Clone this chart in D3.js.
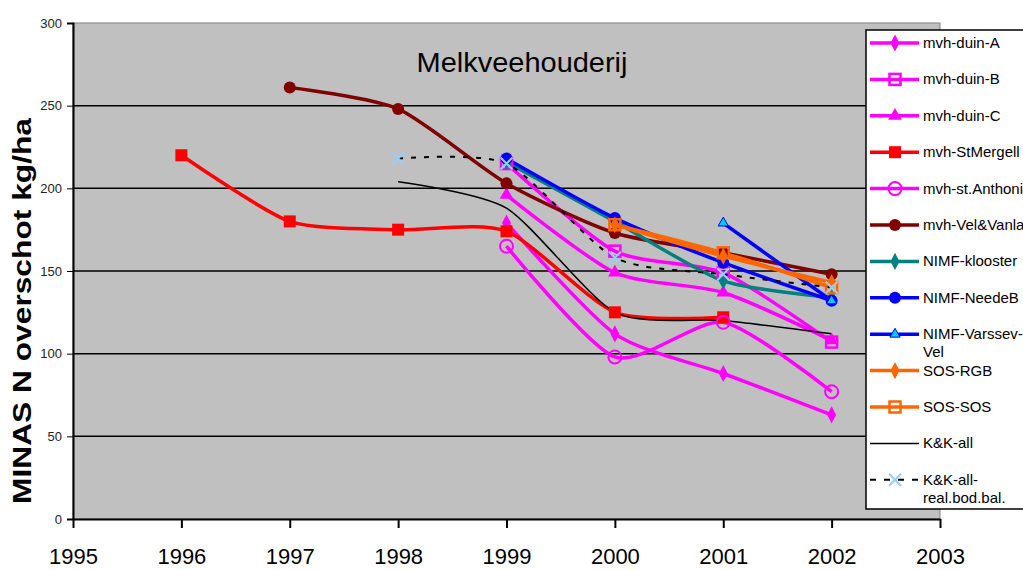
<!DOCTYPE html>
<html>
<head>
<meta charset="utf-8">
<title>Melkveehouderij</title>
<script src="https://d3js.org/d3.v7.min.js"></script>
<style>
  body { margin: 0; background: #fff; }
  text { font-family: Arial, "Liberation Sans", sans-serif; }
</style>
</head>
<body>
<div id="chart"></div>
<script>
// jaren op de x-as en de meetjaren
const xTicks = [1995, 1996, 1997, 1998, 1999, 2000, 2001, 2002, 2003];
const yTicks = [0, 50, 100, 150, 200, 250, 300];
const yrs = [1996, 1997, 1998, 1999, 2000, 2001, 2002];

// N-overschot per bedrijf (kg/ha), null = geen meting
const duinA      = [null, null, null, 179, 112, 88, 63];
const duinB      = [null, null, null, 215, 162, 149, 107];
const duinC      = [null, null, null, 196, 149, 137, 108];
const stMergell  = [220, 180, 175, 174, 125, 122, null];
const stAnthoni  = [null, null, null, 165, 98, 119, 77];
const velVanla   = [null, 261, 248, 203, 173, 161, 148];
const klooster   = [null, null, null, 216, 180, 144, 134];
const needeB     = [null, null, null, 218, 182, 155, 132];
const varssev    = [null, null, null, null, null, 179, 132];
const sosRgb     = [null, null, null, null, 178, 159, 143];
const sosSos     = [null, null, null, null, 178, 161, 140];
const kkAll      = [null, null, 204, 188, 125, 120, 112];
const kkReal     = [null, null, 218, 215, 158, 148, 140];

const series = [
  {name: ["mvh-duin-A"], values: duinA, color: "#ff00ff", marker: "diamond"},
  {name: ["mvh-duin-B"], values: duinB, color: "#ff00ff", marker: "opensquare"},
  {name: ["mvh-duin-C"], values: duinC, color: "#ff00ff", marker: "triangle"},
  {name: ["mvh-StMergell"], values: stMergell, color: "#ff0000", marker: "square"},
  {name: ["mvh-st.Anthoni"], values: stAnthoni, color: "#ff00ff", marker: "opencircle"},
  {name: ["mvh-Vel&Vanla"], values: velVanla, color: "#800000", marker: "circle"},
  {name: ["NIMF-klooster"], values: klooster, color: "#008080", marker: "diamond"},
  {name: ["NIMF-NeedeB"], values: needeB, color: "#0000ff", marker: "circle"},
  {name: ["NIMF-Varssev-", "Vel"], values: varssev, color: "#0000ff", marker: "cyantri"},
  {name: ["SOS-RGB"], values: sosRgb, color: "#ff6600", marker: "diamond"},
  {name: ["SOS-SOS"], values: sosSos, color: "#ff6600", marker: "opensquare"},
  {name: ["K&K-all"], values: kkAll, color: "#000000", marker: "none", thin: true},
  {name: ["K&K-all-", "real.bod.bal."], values: kkReal, color: "#000000", marker: "cross", dashed: true}
];

const W = 1023, H = 570;
const margin = {top: 23, right: 83, bottom: 51, left: 73};
const w = W - margin.left - margin.right;
const h = H - margin.top - margin.bottom;

const svg = d3.select("#chart").append("svg")
    .attr("width", W).attr("height", H);

const g = svg.append("g")
    .attr("transform", "translate(" + margin.left + "," + margin.top + ")");

const xScale = d3.scaleLinear().domain([1995, 2003]).range([0, w]);
const yScale = d3.scaleLinear().domain([0, 300]).range([h, 0]);

// plotgebied
g.append("rect")
    .attr("width", w).attr("height", h)
    .attr("fill", "#c0c0c0")
    .attr("stroke", "#808080");

// rasterlijnen
g.selectAll(".grid")
    .data(yTicks.filter(d => d > 0 && d < 300))
    .enter().append("line")
    .attr("x1", 0).attr("x2", w)
    .attr("y1", d => yScale(d)).attr("y2", d => yScale(d))
    .attr("stroke", "#000").attr("stroke-width", 1.5);

// titel
svg.append("text")
    .attr("x", 522).attr("y", 72)
    .attr("text-anchor", "middle")
    .attr("font-size", "27px")
    .attr("textLength", 211)
    .attr("lengthAdjust", "spacingAndGlyphs")
    .text("Melkveehouderij");

// assen
const yAxis = d3.axisLeft(yScale).tickValues(yTicks).tickSize(6).tickPadding(5);
const ya = g.append("g").call(yAxis);
ya.select(".domain").attr("stroke-width", 2);
ya.selectAll("text").attr("font-size", "13px").attr("fill", "#222");

const xAxis = d3.axisBottom(xScale).tickValues(xTicks).tickFormat(d3.format("d"))
    .tickSize(9).tickSizeOuter(0).tickPadding(20);
const xa = g.append("g").attr("transform", "translate(0," + h + ")").call(xAxis);
xa.select(".domain").attr("stroke-width", 2);
xa.selectAll(".tick line").attr("stroke-width", 2);
xa.selectAll("text").attr("font-size", "22px").attr("fill", "#000");

// y-as titel
svg.append("text")
    .attr("transform", "translate(31," + 311 + ") rotate(-90)")
    .attr("text-anchor", "middle")
    .attr("font-size", "26px")
    .attr("font-weight", "bold")
    .attr("textLength", 386)
    .attr("lengthAdjust", "spacingAndGlyphs")
    .text("MINAS N overschot kg/ha");

function drawMarker(sel, s, x, y) {
  const c = s.color;
  if (s.marker === "diamond") {
    sel.append("path").attr("d", d3.symbol(d3.symbolDiamond, 70)())
      .attr("transform", "translate(" + x + "," + y + ") scale(1,1.1)").attr("fill", c);
  } else if (s.marker === "square") {
    sel.append("rect").attr("x", x - 6).attr("y", y - 6).attr("width", 12).attr("height", 12).attr("fill", c);
  } else if (s.marker === "opensquare") {
    sel.append("rect").attr("x", x - 5.5).attr("y", y - 5.5).attr("width", 11).attr("height", 11)
      .attr("fill", "none").attr("stroke", c).attr("stroke-width", 2.5);
  } else if (s.marker === "triangle") {
    sel.append("path").attr("d", d3.symbol(d3.symbolTriangle, 80)())
      .attr("transform", "translate(" + x + "," + y + ")").attr("fill", c);
  } else if (s.marker === "circle") {
    sel.append("circle").attr("cx", x).attr("cy", y).attr("r", 6).attr("fill", c);
  } else if (s.marker === "opencircle") {
    sel.append("circle").attr("cx", x).attr("cy", y).attr("r", 6.5)
      .attr("fill", "none").attr("stroke", c).attr("stroke-width", 2);
  } else if (s.marker === "cyantri") {
    sel.append("path").attr("d", d3.symbol(d3.symbolTriangle, 45)())
      .attr("transform", "translate(" + x + "," + y + ")")
      .attr("fill", "#00ccff").attr("stroke", "#0000ff").attr("stroke-width", 1);
  } else if (s.marker === "cross") {
    sel.append("path").attr("d", "M-6,-6L6,6M-6,6L6,-6")
      .attr("transform", "translate(" + x + "," + y + ")")
      .attr("stroke", "#99ccff").attr("stroke-width", 2).attr("fill", "none");
  }
}

const line = d3.line()
    .x(d => xScale(d.x)).y(d => yScale(d.y))
    .curve(d3.curveCardinal.tension(0.3));

// lijnen
series.forEach(s => {
  const pts = yrs.map((yr, i) => ({x: yr, y: s.values[i]})).filter(d => d.y != null);
  s.pts = pts;
  g.append("path").datum(pts)
    .attr("d", line)
    .attr("fill", "none")
    .attr("stroke", s.color)
    .attr("stroke-width", s.thin ? 1.5 : (s.dashed ? 2 : 3.5))
    .attr("stroke-dasharray", s.dashed ? "5,8" : null)
    .attr("stroke-linejoin", "round");
});
// markers
series.forEach(s => {
  const mg = g.append("g");
  s.pts.forEach(p => drawMarker(mg, s, xScale(p.x), yScale(p.y)));
});

// legenda
const lg = svg.append("g").attr("transform", "translate(866,30)");
lg.append("rect").attr("x", 0).attr("y", 0).attr("width", 170).attr("height", 479)
  .attr("fill", "#fff").attr("stroke", "#000").attr("stroke-width", 1.5);

series.forEach((s, i) => {
  const cy = 13 + i * 36.4;
  lg.append("line").attr("x1", 4).attr("x2", 53).attr("y1", cy).attr("y2", cy)
    .attr("stroke", s.color)
    .attr("stroke-width", s.thin ? 1.5 : (s.dashed ? 2 : 3.5))
    .attr("stroke-dasharray", s.dashed ? "6,8" : null);
  drawMarker(lg, s, 29, cy);
  s.name.forEach((t, j) => {
    lg.append("text").attr("x", 57).attr("y", cy + 5 + j * 18)
      .attr("font-size", "15px").text(t);
  });
});
</script>
</body>
</html>
